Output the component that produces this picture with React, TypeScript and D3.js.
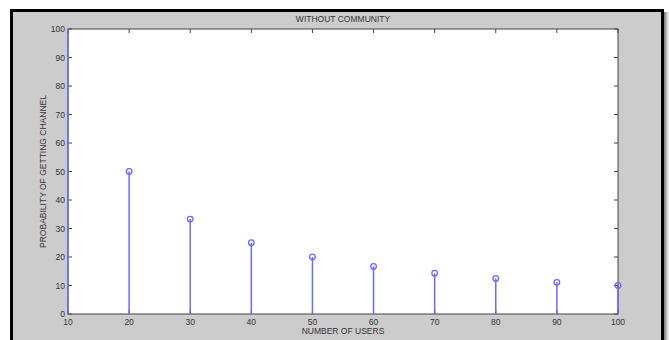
import React from "react";
import * as d3 from "d3";

const users = [10, 20, 30, 40, 50, 60, 70, 80, 90, 100];
const probability = [100, 50, 33.3, 25, 20, 16.7, 14.3, 12.5, 11.1, 10];
const xTicks = [10, 20, 30, 40, 50, 60, 70, 80, 90, 100];
const yTicks = [0, 10, 20, 30, 40, 50, 60, 70, 80, 90, 100];
const title = "WITHOUT COMMUNITY";
const xLabel = "NUMBER OF USERS";
const yLabel = "PROBABILITY OF GETTING CHANNEL";

export default function App() {
  const W = 669, H = 340;
  const L = 68, R = 618, T = 29, B = 314;
  const x = d3.scaleLinear().domain([10, 100]).range([L, R]);
  const y = d3.scaleLinear().domain([0, 100]).range([B, T]);
  const axisCol = "#444";
  const txtCol = "#333";
  const blue = "#6a6aff";
  const font = "Arial, 'Liberation Sans', sans-serif";
  const tl = 4;
  const fs = 8.5;
  return (
    <svg width={W} height={H} style={{ position: "absolute", left: 0, top: 0 }}>
      <defs>
        <linearGradient id="shR" x1="0" x2="1" y1="0" y2="0">
          <stop offset="0" stopColor="#777" />
          <stop offset="1" stopColor="#fff" />
        </linearGradient>
      </defs>
      <rect x={0} y={0} width={W} height={H} fill="#fff" />
      <rect x={664} y={12} width={5} height={H} fill="url(#shR)" />
      <rect x={10} y={9} width={654} height={H} fill="#000" />
      <rect x={13} y={12} width={648} height={H} fill="#cccccc" />
      <rect x={L} y={T} width={R - L} height={B - T} fill="#fff" />
      <rect x={L} y={T} width={R - L} height={B - T} fill="none" stroke={axisCol} strokeWidth={1} />
      {xTicks.map((t) => (
        <g key={"x" + t}>
          <line x1={x(t)} x2={x(t)} y1={B} y2={B - tl} stroke={axisCol} />
          <line x1={x(t)} x2={x(t)} y1={T} y2={T + tl} stroke={axisCol} />
          <text x={x(t)} y={B + 11} textAnchor="middle" fontSize={fs} fontFamily={font} fill={txtCol}>{t}</text>
        </g>
      ))}
      {yTicks.map((t) => (
        <g key={"y" + t}>
          <line x1={L} x2={L + tl} y1={y(t)} y2={y(t)} stroke={axisCol} />
          <line x1={R} x2={R - tl} y1={y(t)} y2={y(t)} stroke={axisCol} />
          <text x={L - 3} y={y(t) + 3} textAnchor="end" fontSize={fs} fontFamily={font} fill={txtCol}>{t}</text>
        </g>
      ))}
      {users.map((u, i) => (
        <g key={"s" + u}>
          <line x1={x(u)} x2={x(u)} y1={y(0)} y2={y(probability[i])} stroke={blue} strokeWidth={1.5} />
          {probability[i] < 100 && (
            <circle cx={x(u)} cy={y(probability[i])} r={2.8} fill="none" stroke={blue} strokeWidth={1.3} />
          )}
        </g>
      ))}
      <text x={(L + R) / 2} y={22} textAnchor="middle" fontSize={fs} fontFamily={font} fill={txtCol}>{title}</text>
      <text x={(L + R) / 2} y={334} textAnchor="middle" fontSize={fs} fontFamily={font} fill={txtCol}>{xLabel}</text>
      <text transform={`translate(46,${(T + B) / 2}) rotate(-90)`} textAnchor="middle" fontSize={fs} fontFamily={font} fill={txtCol}>{yLabel}</text>
    </svg>
  );
}
